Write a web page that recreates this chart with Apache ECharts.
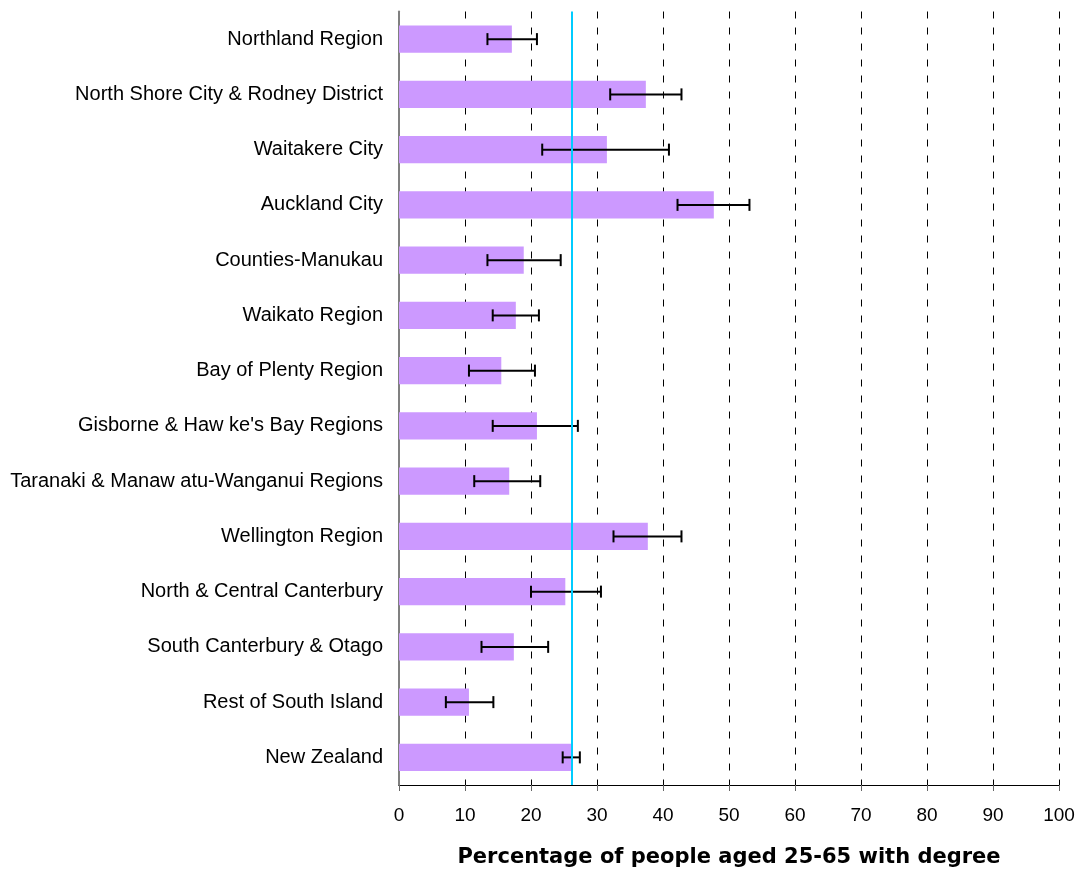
<!DOCTYPE html>
<html>
<head>
<meta charset="utf-8">
<script src="https://cdn.jsdelivr.net/npm/echarts@6/dist/echarts.min.js"></script>
<style>html,body{margin:0;padding:0;background:#fff}#chart{width:1083px;height:873px}</style>
</head>
<body>
<div id="chart"></div>
<script>
const categories = [
  "Northland Region",
  "North Shore City & Rodney District",
  "Waitakere City",
  "Auckland City",
  "Counties-Manukau",
  "Waikato Region",
  "Bay of Plenty Region",
  "Gisborne & Haw ke's Bay Regions",
  "Taranaki & Manaw atu-Wanganui Regions",
  "Wellington Region",
  "North & Central Canterbury",
  "South Canterbury & Otago",
  "Rest of South Island",
  "New Zealand"
];
const values = [17.1, 37.4, 31.5, 47.7, 18.9, 17.7, 15.5, 20.9, 16.7, 37.7, 25.2, 17.4, 10.6, 26.2];
const errLow = [13.4, 32.0, 21.7, 42.2, 13.4, 14.2, 10.6, 14.2, 11.4, 32.5, 20.0, 12.5, 7.1, 24.8];
const errHigh = [20.9, 42.8, 40.9, 53.1, 24.5, 21.2, 20.6, 27.1, 21.4, 42.8, 30.6, 22.6, 14.3, 27.4];
const nzAverage = 26.2;
const xTicks = { min: 0, max: 100, interval: 10 };
const xTitle = "Percentage of people aged 25-65 with degree";

const errData = categories.map((c, i) => [i, errLow[i], errHigh[i]]);

const chart = echarts.init(document.getElementById('chart'), null, { renderer: 'canvas' });
chart.setOption({
  animation: false,
  backgroundColor: '#fff',
  grid: { left: 399, right: 24, top: 11.5, bottom: 87, containLabel: false },
  xAxis: {
    type: 'value',
    min: xTicks.min, max: xTicks.max, interval: xTicks.interval,
    name: xTitle,
    nameLocation: 'middle',
    nameGap: 62,
    nameTextStyle: { fontFamily: 'DejaVu Sans, sans-serif', fontWeight: 'bold', fontSize: 21, color: '#000' },
    axisLine: { show: true, lineStyle: { color: '#000', width: 1 } },
    axisTick: { show: true, length: 6, lineStyle: { color: '#666' } },
    axisLabel: { fontFamily: 'Liberation Sans, Arial, sans-serif', fontSize: 19, color: '#000', margin: 21 },
    splitLine: { show: true, lineStyle: { color: '#000', width: 1, type: [7, 9] } }
  },
  yAxis: {
    type: 'category',
    data: categories,
    inverse: true,
    axisLine: { show: true, lineStyle: { color: '#808080', width: 2 } },
    axisTick: { show: false },
    axisLabel: { fontFamily: 'Liberation Sans, Arial, sans-serif', fontSize: 20, color: '#000', margin: 16, padding: [4, 0, 0, 0] },
    splitLine: { show: false }
  },
  series: [
    {
      type: 'bar',
      data: values,
      barWidth: '49%',
      itemStyle: { color: '#CC99FF' },
      z: 2,
      markLine: {
        silent: true,
        symbol: 'none',
        label: { show: false },
        lineStyle: { color: '#00CCFF', width: 2, type: 'solid' },
        data: [{ xAxis: nzAverage }],
        z: 5
      }
    },
    {
      type: 'custom',
      data: errData,
      z: 4,
      renderItem: function (params, api) {
        const idx = api.value(0);
        const lo = api.coord([api.value(1), idx]);
        const hi = api.coord([api.value(2), idx]);
        const half = 6;
        const style = { stroke: '#000', lineWidth: 2 };
        return {
          type: 'group',
          children: [
            { type: 'line', shape: { x1: lo[0], y1: lo[1], x2: hi[0], y2: hi[1] }, style: style },
            { type: 'line', shape: { x1: lo[0], y1: lo[1] - half, x2: lo[0], y2: lo[1] + half }, style: style },
            { type: 'line', shape: { x1: hi[0], y1: hi[1] - half, x2: hi[0], y2: hi[1] + half }, style: style }
          ]
        };
      }
    }
  ]
});
</script>
</body>
</html>
